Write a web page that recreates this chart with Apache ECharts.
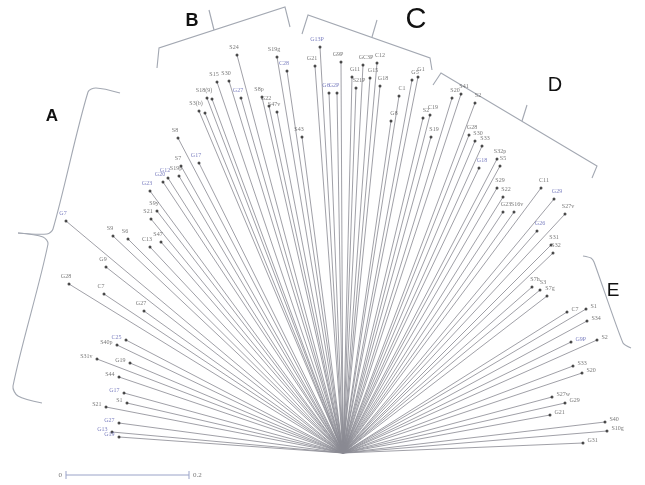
<!DOCTYPE html>
<html>
<head>
<meta charset="utf-8">
<script src="https://cdn.jsdelivr.net/npm/echarts@6/dist/echarts.min.js"></script>
<style>
  html, body { margin: 0; padding: 0; background: #ffffff; }
  #chart { width: 645px; height: 485px; }
</style>
</head>
<body>
<div id="chart"></div>
<script>
// ---- DATA: tips of the star tree (offsets of each tip from the root) ----
const tipNames = [
  'S8','G17','S7','S19p','G12','G20','G23','S9y','S21','G7','S9','S6','S47','C13','G9','G28','C7','G27','C25','S40p','S31v','G19','S44','G17','S1','S21','G27','G13','G19',
  'S3(b)','','S18(9)','','S15','S30','S24','G27','S8p','G22','S47v','S19g','C28','S43',
  'G13P','G21','G6','G2P','G9P','G11','S21P','GC3P','G15','C12','G18','G8','C1','G5','G1',
  'S2','C19','S19','S20','S41','S2','G28','S30','S33','G18','S32p','S5','S29','S22','G23','S16v','C11','G29','S27v','G26','S31','S32',
  'S7h','S3','S7g','C7','S1','S34','G9P','S2','S33','S20','S27w','G29','G21','S40','S10g','G31'
];
const tipX = [
  -165,-144,-162,-164,-175,-180,-193,-186,-192,-277,-230,-215,-182,-193,-237,-274,-239,-199,-217,-226,-246,-213,-224,-219,-216,-237,-224,-231,-224,
  -144,-138,-136,-131,-126,-114,-106,-102,-81,-74,-66,-66,-56,-41,
  -23,-28,-14,-6,-2,9,13,20,27,34,37,48,56,69,75,
  80,87,88,109,118,132,126,132,139,136,154,157,154,160,160,171,198,211,222,194,208,210,
  189,197,204,224,243,244,228,254,230,239,209,222,207,262,264,240
];
const tipY = [
  315,290,287,277,275,271,262,242,234,232,217,214,211,206,186,169,159,142,113,108,94,90,76,60,50,46,30,21,16,
  342,340,355,354,371,372,398,355,356,347,341,396,382,316,
  406,387,360,360,391,376,365,388,375,390,367,332,357,373,376,
  335,338,316,355,359,350,318,312,307,285,294,287,265,256,241,241,265,254,239,222,208,200,
  166,163,157,141,144,132,111,113,87,80,56,50,38,31,22,10
];
// scale bar
const scaleLabels = ['0', '0.2'];
// bracket group letters
const groupLetters = ['A', 'B', 'C', 'D', 'E'];

// ---- STYLE ----
const blueTips = new Set([1,4,5,6,9,18,23,26,27,28,36,41,43,45,46,67,75,77,86]);
const labelGray = '#555555';
const labelBlue = '#5a5fb0';
const bracketColor = '#a3a8b2';

function labelFor(i) {
  const a = Math.atan2(tipY[i], tipX[i]) * 180 / Math.PI;
  const base = {
    show: true,
    formatter: tipNames[i],
    fontSize: 6,
    fontFamily: 'Liberation Serif',
    color: blueTips.has(i) ? labelBlue : labelGray,
    distance: 3
  };
  if (a > 150) return Object.assign(base, { position: 'left', offset: [0, -3] });
  if (a < 35) return Object.assign(base, { position: 'right', offset: [0, -3] });
  return Object.assign(base, { position: 'top', offset: [tipX[i] < 0 ? -3 : 3, 0] });
}

const lineData = tipX.map((x, i) => ({ coords: [[0, 0], [x, tipY[i]]] }));
const dotData = tipX.map((x, i) => ({ value: [x, tipY[i]], label: labelFor(i) }));

const chart = echarts.init(document.getElementById('chart'), null, { renderer: 'canvas' });

function poly(points, extra) {
  return Object.assign({
    type: 'polyline',
    shape: { points: points, smooth: 0 },
    style: { stroke: bracketColor, lineWidth: 1.1, fill: null },
    silent: true
  }, extra || {});
}
function letter(text, x, y, size, weight) {
  return {
    type: 'text', x: x, y: y,
    style: { text: text, fontSize: size, fontWeight: weight, fontFamily: 'Liberation Sans', fill: '#111', align: 'center', verticalAlign: 'middle' },
    silent: true
  };
}

const option = {
  animation: false,
  backgroundColor: '#ffffff',
  grid: { left: 0, right: 0, top: 0, bottom: 0 },
  xAxis: { type: 'value', min: -343, max: 302, show: false },
  yAxis: { type: 'value', min: -32, max: 453, show: false },
  series: [
    {
      type: 'lines',
      coordinateSystem: 'cartesian2d',
      data: lineData,
      lineStyle: { color: '#8a8a92', width: 0.9, opacity: 0.9 },
      silent: true,
      z: 1
    },
    {
      type: 'scatter',
      data: dotData,
      symbol: 'circle',
      symbolSize: 3,
      itemStyle: { color: '#222' },
      silent: true,
      z: 2
    }
  ],
  graphic: [
    // bracket A
    poly(null, { shape: { points: [[120,93],[96,88],[88,92],[53,229],[47,234],[18,233]], smooth: 0.3 } }),
    poly(null, { shape: { points: [[18,233],[43,237],[48,244],[13,386],[18,396],[42,403]], smooth: 0.3 } }),
    // bracket B
    poly([[157,68],[159,48],[285,7],[290,27]]),
    poly([[214,30],[209,10]]),
    // bracket C
    poly([[302,34],[308,15],[430,58],[432,70]]),
    poly([[372,37],[377,20]]),
    // bracket D
    poly([[433,85],[441,73],[597,166],[592,178]]),
    poly([[522,121],[527,105]]),
    // bracket E
    poly(null, { shape: { points: [[583,256],[591,258],[594,262],[623,343],[631,348]], smooth: 0.2 } }),
    // letters
    letter(groupLetters[0], 52, 116, 17, 'bold'),
    letter(groupLetters[1], 192, 21, 18, 'bold'),
    letter(groupLetters[2], 416, 20, 29, 'normal'),
    letter(groupLetters[3], 555, 85, 20, 'normal'),
    letter(groupLetters[4], 613, 291, 19, 'normal'),
    // scale bar
    poly([[66,475],[189,475]], { style: { stroke: '#9aa3c8', lineWidth: 1, fill: null } }),
    poly([[66,471],[66,479]], { style: { stroke: '#9aa3c8', lineWidth: 1, fill: null } }),
    poly([[189,471],[189,479]], { style: { stroke: '#9aa3c8', lineWidth: 1, fill: null } }),
    { type: 'text', x: 62, y: 475, style: { text: scaleLabels[0], fontSize: 7, fontFamily: 'Liberation Serif', fill: '#777', align: 'right', verticalAlign: 'middle' }, silent: true },
    { type: 'text', x: 193, y: 475, style: { text: scaleLabels[1], fontSize: 7, fontFamily: 'Liberation Serif', fill: '#777', align: 'left', verticalAlign: 'middle' }, silent: true }
  ]
};
chart.setOption(option);
</script>
</body>
</html>
